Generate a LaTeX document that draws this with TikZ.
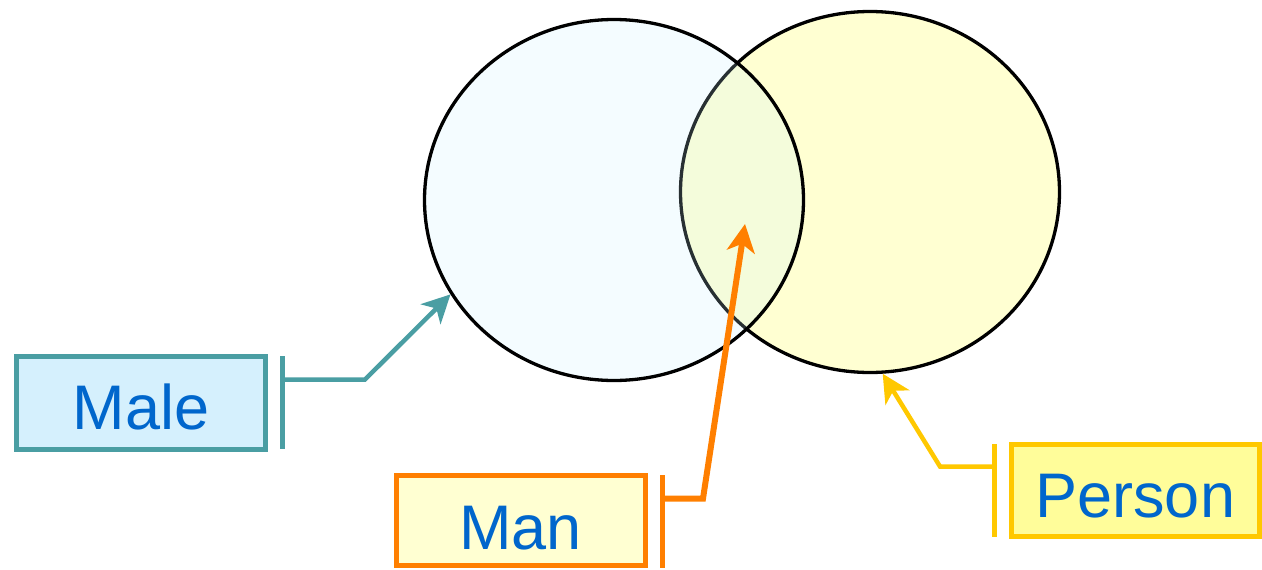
\documentclass[tikz,border=0pt]{standalone}
\usepackage{fontspec}
\setmainfont{Liberation Sans}
\usetikzlibrary{shapes.geometric,arrows.meta}
\definecolor{tealc}{HTML}{4A9EA3}
\definecolor{orangec}{HTML}{FF7F00}
\definecolor{yellowc}{HTML}{FFC800}
\definecolor{txtblue}{HTML}{0066CC}
\definecolor{malefill}{HTML}{D5F0FD}
\definecolor{manfill}{HTML}{FFFFD2}
\definecolor{personfill}{HTML}{FFFD9A}
\definecolor{leftfill}{HTML}{C8F2FF}
\definecolor{rightfill}{HTML}{FFFFD2}
\begin{document}
\begin{tikzpicture}[x=1pt,y=-1pt,
  setell/.style={ellipse, draw=black, line width=3.3pt, inner sep=0pt, minimum width=379pt, minimum height=361pt},
  labelbox/.style={rectangle, line width=5pt, inner sep=0pt, text=txtblue, font=\fontsize{63}{72}\selectfont, text depth=0pt},
  tipstyle/.style={-{Stealth[length=28pt,width=28pt,inset=8pt]}},
  barline/.style={line width=5pt}
]
\useasboundingbox (0,0) rectangle (1262,570);
% ellipses
\node[setell, fill=rightfill] (R) at (870,192) {};
\node[setell, fill=leftfill, fill opacity=0.2] (L) at (614,200) {};
% label boxes
\node[labelbox, draw=tealc, fill=malefill, minimum width=249pt, minimum height=93pt, text height=53pt] (male) at (141,402.5) {Male};
\node[labelbox, draw=orangec, fill=manfill, minimum width=249.5pt, minimum height=90pt, text height=57pt] (man) at (520.75,520.5) {Man};
\node[labelbox, draw=yellowc, fill=personfill, minimum width=248.5pt, minimum height=92.5pt, text height=53.5pt] (person) at (1135.25,490.25) {Person};
% bar and connector coordinates
\coordinate (maleBarT) at (282,356);
\coordinate (maleBarB) at (282,449);
\coordinate (maleJ) at (282,379.5);
\coordinate (maleK) at (365,379.5);
\coordinate (manBarT) at (662.5,475);
\coordinate (manBarB) at (662.5,568);
\coordinate (manJ) at (662.5,498.5);
\coordinate (manK) at (703,498.5);
\coordinate (mantip) at (745,224);
\coordinate (perBarT) at (994.5,444);
\coordinate (perBarB) at (994.5,537);
\coordinate (perJ) at (994.5,466.5);
\coordinate (perK) at (940,466.5);
% Male connector
\draw[barline, tealc] (maleBarT) -- (maleBarB);
\draw[tipstyle, tealc, line width=4.5pt] (maleJ) -- (maleK) -- (L.210.9);
% Man connector
\draw[barline, orangec] (manBarT) -- (manBarB);
\draw[tipstyle, orangec, line width=6pt] (manJ) -- (manK) -- (mantip);
% Person connector
\draw[barline, yellowc] (perBarT) -- (perBarB);
\draw[tipstyle, yellowc, line width=4.5pt] (perJ) -- (perK) -- (R.274.4);
\end{tikzpicture}
\end{document}
